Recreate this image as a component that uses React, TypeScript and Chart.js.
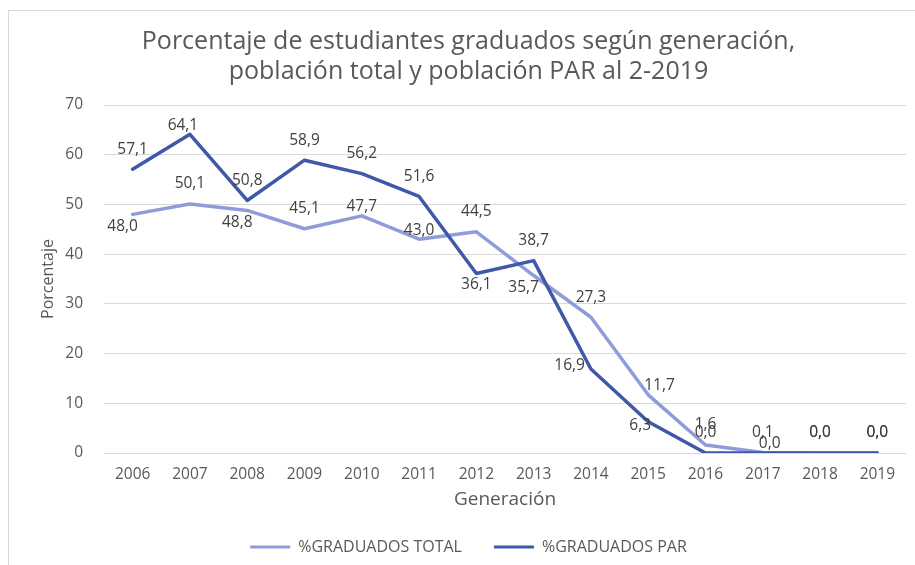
import React, { useEffect, useRef } from 'react';
import { Chart, registerables } from 'chart.js';

Chart.register(...registerables);

const years = ['2006', '2007', '2008', '2009', '2010', '2011', '2012', '2013', '2014', '2015', '2016', '2017', '2018', '2019'];
const totalValues = [48.0, 50.1, 48.8, 45.1, 47.7, 43.0, 44.5, 35.7, 27.3, 11.7, 1.6, 0.1, 0.0, 0.0];
const parValues = [57.1, 64.1, 50.8, 58.9, 56.2, 51.6, 36.1, 38.7, 16.9, 6.3, 0.0, 0.0, 0.0, 0.0];
const yTicks = [0, 10, 20, 30, 40, 50, 60, 70];
const seriesNames = ['%GRADUADOS TOTAL', '%GRADUADOS PAR'];
const titleLines = ['Porcentaje de estudiantes graduados según generación,', 'población total y población PAR al 2-2019'];
const xTitle = 'Generación';
const yTitle = 'Porcentaje';

// label placement keywords (styling, like Excel's label position)
const totalLabelPos = ['sw', 'above', 'sw', 'above', 'near', 'near', 'above', 'sw', 'above', 'ne', 'above', 'above', 'above', 'above'];
const parLabelPos = ['above', 'nw', 'above', 'above', 'above', 'above', 'below', 'above', 'left', 'w', 'above', 'ne', 'above', 'above'];

const FONT = "'Open Sans', sans-serif";
const TEXT = '#595959';
const LABEL = '#404040';
const GRID = '#D9D9D9';
const TOTAL_COLOR = '#8F9CDA';
const PAR_COLOR = '#3F58A8';

const fmt = (v: number) => v.toFixed(1).replace('.', ',');

const labelOffset = (pos: string, w: number): [number, number] => {
  switch (pos) {
    case 'above': return [0, -20];
    case 'near': return [0, -9];
    case 'below': return [0, 11];
    case 'sw': return [-10, 12];
    case 'nw': return [-7, -9];
    case 'left': return [-(w / 2 + 6), -3];
    case 'w': return [-8, 4];
    case 'ne': return [w / 2 - 4, -9];
    default: return [0, 0];
  }
};

const labelPlugin = {
  id: 'pointLabels',
  afterDatasetsDraw(chart: any) {
    const ctx = chart.ctx;
    ctx.save();
    ctx.font = `15.5px ${FONT}`;
    ctx.fillStyle = LABEL;
    ctx.textBaseline = 'middle';
    ctx.textAlign = 'center';
    const posSets = [totalLabelPos, parLabelPos];
    chart.data.datasets.forEach((ds: any, di: number) => {
      const meta = chart.getDatasetMeta(di);
      meta.data.forEach((pt: any, i: number) => {
        const txt = fmt(ds.data[i]);
        const w = ctx.measureText(txt).width;
        const [dx, dy] = labelOffset(posSets[di][i], w);
        ctx.fillText(txt, pt.x + dx, pt.y + dy);
      });
    });
    ctx.restore();
  },
};

export default function App() {
  const ref = useRef<HTMLCanvasElement | null>(null);
  useEffect(() => {
    if (!ref.current) return;
    const chart = new Chart(ref.current, {
      type: 'line',
      data: {
        labels: years,
        datasets: [
          {
            label: seriesNames[0],
            data: totalValues,
            borderColor: TOTAL_COLOR,
            backgroundColor: TOTAL_COLOR,
            borderWidth: 3.5,
            pointRadius: 0,
            tension: 0,
            borderCapStyle: 'round',
            borderJoinStyle: 'round',
            order: 2,
          },
          {
            label: seriesNames[1],
            data: parValues,
            borderColor: PAR_COLOR,
            backgroundColor: PAR_COLOR,
            borderWidth: 3.5,
            pointRadius: 0,
            tension: 0,
            borderCapStyle: 'round',
            borderJoinStyle: 'round',
            order: 1,
          },
        ],
      },
      options: {
        animation: false,
        responsive: false,
        maintainAspectRatio: false,
        layout: { padding: { top: 16, left: 22, right: 9, bottom: 0 } },
        plugins: {
          tooltip: { enabled: false },
          title: {
            display: true,
            text: titleLines,
            color: TEXT,
            font: { family: FONT, size: 25, weight: 'normal', lineHeight: 1.2 },
            padding: { top: 0, bottom: 18 },
          },
          legend: {
            position: 'bottom',
            labels: {
              color: TEXT,
              font: { family: FONT, size: 16 },
              boxWidth: 40,
              boxHeight: 3,
              padding: 32,
              generateLabels: (c: any) =>
                c.data.datasets.map((ds: any, i: number) => ({
                  text: ds.label,
                  fillStyle: ds.borderColor,
                  strokeStyle: ds.borderColor,
                  lineWidth: 0,
                  hidden: false,
                  datasetIndex: i,
                  fontColor: TEXT,
                })),
            },
          },
        },
        scales: {
          x: {
            offset: true,
            grid: { display: false, drawTicks: false },
            border: { display: false },
            ticks: { color: TEXT, font: { family: FONT, size: 15.5 }, padding: 12, maxRotation: 0 },
            title: {
              display: true,
              text: xTitle,
              color: TEXT,
              font: { family: FONT, size: 19 },
              padding: { top: 0, bottom: -4 },
            },
            afterFit: (s: any) => {
              s.height = 54;
              s.paddingLeft = 0;
              s.paddingRight = 0;
            },
          },
          y: {
            min: yTicks[0],
            max: yTicks[yTicks.length - 1],
            ticks: { stepSize: yTicks[1] - yTicks[0], color: TEXT, font: { family: FONT, size: 15.5 }, padding: 21 },
            grid: { color: GRID, lineWidth: 1, drawTicks: false },
            border: { display: false },
            title: {
              display: true,
              text: yTitle,
              color: TEXT,
              font: { family: FONT, size: 16 },
              padding: { top: 8, bottom: 8 },
            },
            afterFit: (s: any) => {
              s.width = 73;
            },
          },
        },
      },
      plugins: [labelPlugin],
    } as any);
    return () => chart.destroy();
  }, []);

  return (
    <div
      style={{
        position: 'fixed',
        left: 8,
        top: 10,
        width: 907,
        height: 555,
        borderLeft: `1px solid ${GRID}`,
        borderTop: `1px solid ${GRID}`,
        background: '#fff',
        boxSizing: 'border-box',
      }}
    >
      <canvas ref={ref} width={906} height={554} style={{ display: 'block', width: 906, height: 554 }} />
    </div>
  );
}
